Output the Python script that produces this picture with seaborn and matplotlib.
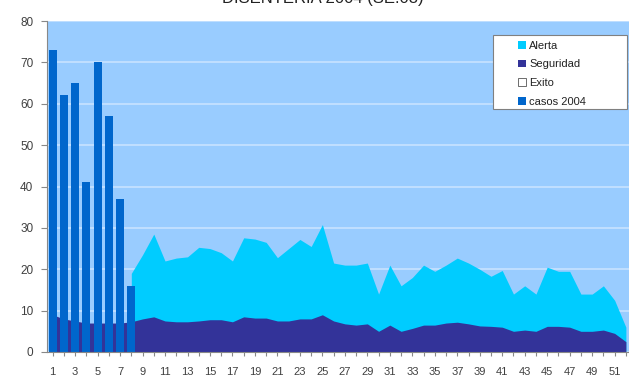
import numpy as np
import matplotlib
matplotlib.use("Agg")
import matplotlib.pyplot as plt
from matplotlib.patches import Patch, Rectangle
import seaborn as sns

# Epidemiological weeks (categories on the x axis)
weeks = list(range(1, 53))

# Reported cases so far this year (weeks 1-8)
bar_weeks = [1, 2, 3, 4, 5, 6, 7, 8]
casos_2004 = [73, 62, 65, 41, 70, 57, 37, 16]

# Endemic channel zones: upper limit of each zone per week
alerta = [None, None, None, None, None, None, None, 19,
          23.5, 28.5, 22, 22.7, 23, 25.3, 25, 24,
          22, 27.6, 27.3, 26.5, 22.8, 25, 27.2, 25.5,
          30.8, 21.5, 21, 21, 21.5, 14, 21, 16,
          18, 21, 19.5, 21, 22.7, 21.5, 20, 18.3,
          19.7, 14, 16, 14, 20.5, 19.5, 19.5, 14,
          14, 16, 12.5, 6]
seguridad = [9, 8, 7.5, 7, 7, 7, 7, 7.3,
             8, 8.5, 7.5, 7.3, 7.3, 7.5, 7.8, 7.8,
             7.3, 8.5, 8.2, 8.2, 7.5, 7.5, 8, 8,
             9, 7.5, 6.8, 6.5, 6.8, 5, 6.5, 5,
             5.7, 6.5, 6.5, 7, 7.2, 6.8, 6.3, 6.2,
             6, 5, 5.3, 5, 6.2, 6.2, 6, 5,
             5, 5.3, 4.5, 2.5]
exito = [0, 0, 0, 0, 0, 0, 0, 0, 0, 0, 0, 0, 0,
         0, 0, 0, 0, 0, 0, 0, 0, 0, 0, 0, 0, 0,
         0, 0, 0, 0, 0, 0, 0, 0, 0, 0, 0, 0, 0,
         0, 0, 0, 0, 0, 0, 0, 0, 0, 0, 0, 0, 0]

y_ticks = [0, 10, 20, 30, 40, 50, 60, 70, 80]
legend_labels = ["Alerta", "Seguridad", "Exito", "casos 2004"]
title = "DISENTERIA 2004 (SE.08)"

c_alerta = "#00CCFF"
c_seguridad = "#333399"
c_casos = "#0066CC"
c_plot_bg = "#99CCFF"

sns.set_theme(style="white")
plt.rcParams["font.family"] = ["Liberation Sans", "DejaVu Sans"]

fig = plt.figure(figsize=(6.29, 3.76), dpi=100)
fig.patch.set_facecolor("white")
ax = fig.add_axes([47 / 629, 1 - 352 / 376, 584.5 / 629, 331 / 376])
ax.set_facecolor(c_plot_bg)

# overlapping zone areas, largest drawn first
alerta_arr = np.array([np.nan if v is None else v for v in alerta], dtype=float)
ax.fill_between(weeks, 0, alerta_arr, color=c_alerta, lw=0, zorder=1)
ax.fill_between(weeks, 0, seguridad, color=c_seguridad, lw=0, zorder=1.1)
ax.fill_between(weeks, 0, exito, color="white", lw=0, zorder=1.2)

# weekly cases as columns on top of the channel
sns.barplot(x=bar_weeks, y=casos_2004, native_scale=True, color=c_casos,
            saturation=1, width=0.72, linewidth=0, ax=ax, zorder=2)

ax.set_xlim(0.5, 52.5)
ax.set_ylim(0, 80)
ax.set_axisbelow(True)
ax.yaxis.grid(True, color="#C4E0FF", lw=1.3)
ax.xaxis.grid(False)

ax.set_xticks(weeks)
ax.set_xticklabels([str(w) if w % 2 == 1 else "" for w in weeks])
ax.set_yticks(y_ticks)
ax.set_yticklabels([str(v) for v in y_ticks])
ax.set_xlabel("")
ax.set_ylabel("")
ax.tick_params(axis="x", length=3, width=0.8, color="#888888", pad=8,
               labelsize=8, labelcolor="#404040", bottom=True)
ax.tick_params(axis="y", length=4.3, width=0.8, color="#888888", pad=5.5,
               labelsize=8.5, labelcolor="#404040", left=True)
for side in ("top", "right"):
    ax.spines[side].set_visible(False)
for side in ("left", "bottom"):
    ax.spines[side].set_color("#888888")
    ax.spines[side].set_linewidth(0.8)

fig.text(0.514, 1.0 + 2 / 376, title, ha="center", va="center",
         fontsize=12, color="#222222")

# legend box
fig.add_artist(Rectangle((493 / 629, 1 - 109 / 376), 134 / 629, 74 / 376,
                         transform=fig.transFigure, fc="white", ec="#808080",
                         lw=0.8, zorder=5))
handles = [Patch(fc=c_alerta, ec="none"),
           Patch(fc=c_seguridad, ec="none"),
           Patch(fc="white", ec="#555555", lw=0.6),
           Patch(fc=c_casos, ec="none")]
leg = fig.legend(handles=handles, labels=legend_labels, loc="upper left",
                 bbox_to_anchor=(510 / 629, 1 - 33 / 376),
                 bbox_transform=fig.transFigure, frameon=False, fontsize=8,
                 handlelength=0.7, handleheight=0.7, handletextpad=0.35,
                 labelspacing=0.78, borderpad=0.2)
leg.set_zorder(6)
for t in leg.get_texts():
    t.set_color("#222222")

fig.savefig("out.png", dpi=100)
